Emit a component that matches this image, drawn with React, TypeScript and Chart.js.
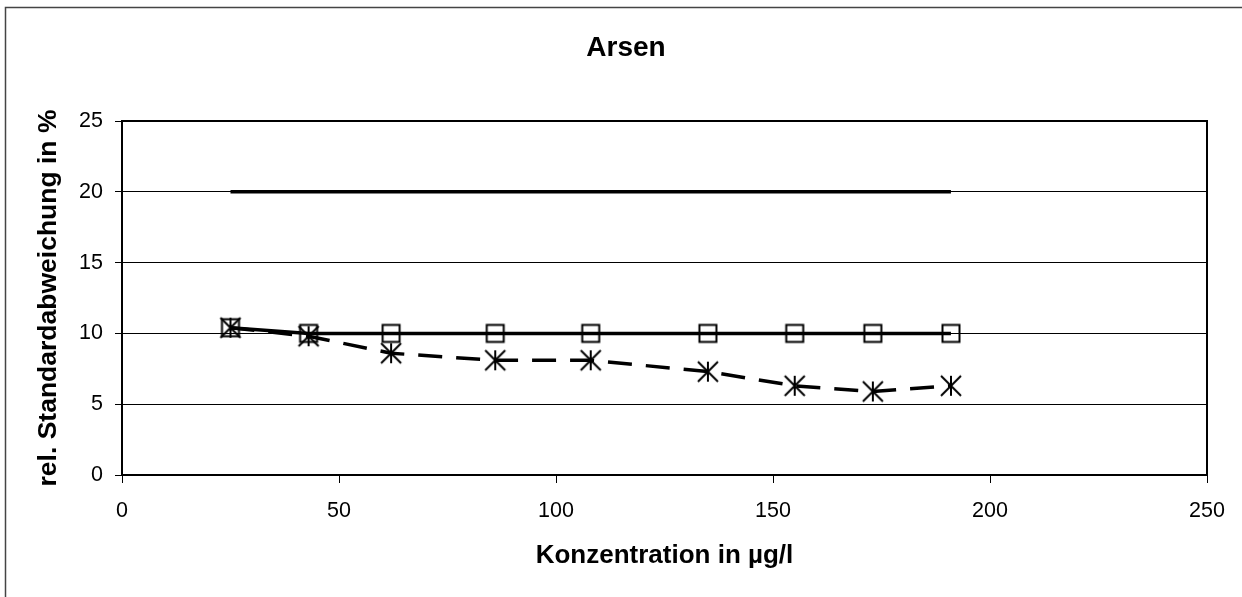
import React, { useEffect, useRef } from "react";
import { Chart, registerables } from "chart.js";

Chart.register(...registerables);

// ---- data ----
const concentrations = [25, 43, 62, 86, 108, 135, 155, 173, 191];
const rsdMeasured = [10.4, 9.8, 8.6, 8.1, 8.1, 7.3, 6.3, 5.9, 6.3];
const rsdLimit10 = [10.4, 10, 10, 10, 10, 10, 10, 10, 10];
const limit20X = [25, 191];
const limit20Y = [20, 20];
const chartTitle = "Arsen";
const xTitle = "Konzentration in µg/l";
const yTitle = "rel. Standardabweichung in %";

const FONT = "'Liberation Sans', Arial, Helvetica, sans-serif";

function makeStar(): HTMLCanvasElement {
  const c = document.createElement("canvas");
  const s = 24;
  c.width = s;
  c.height = s;
  const ctx = c.getContext("2d")!;
  ctx.strokeStyle = "#000";
  ctx.lineWidth = 2;
  const h = 10;
  const m = s / 2;
  ctx.beginPath();
  ctx.moveTo(m, m - h);
  ctx.lineTo(m, m + h);
  ctx.moveTo(m - h, m - h);
  ctx.lineTo(m + h, m + h);
  ctx.moveTo(m + h, m - h);
  ctx.lineTo(m - h, m + h);
  ctx.stroke();
  return c;
}

function makeSquare(): HTMLCanvasElement {
  const c = document.createElement("canvas");
  const s = 22;
  c.width = s;
  c.height = s;
  const ctx = c.getContext("2d")!;
  ctx.strokeStyle = "#000";
  ctx.lineWidth = 2;
  ctx.strokeRect(2.5, 2.5, 17, 17);
  return c;
}

const decorPlugin = {
  id: "decor",
  afterDraw(chart: any) {
    const ctx = chart.ctx as CanvasRenderingContext2D;
    const { chartArea } = chart;
    ctx.save();
    // outer frame
    ctx.strokeStyle = "#444";
    ctx.lineWidth = 1.5;
    ctx.beginPath();
    ctx.moveTo(5.5, 620);
    ctx.lineTo(5.5, 7.5);
    ctx.lineTo(1260, 7.5);
    ctx.stroke();
    // plot area box (top & right)
    ctx.strokeStyle = "#000";
    ctx.lineWidth = 2;
    ctx.beginPath();
    ctx.moveTo(chartArea.left, chartArea.top);
    ctx.lineTo(chartArea.right, chartArea.top);
    ctx.lineTo(chartArea.right, chartArea.bottom);
    ctx.stroke();
    // title
    ctx.fillStyle = "#000";
    ctx.font = `bold 28px ${FONT}`;
    ctx.textAlign = "center";
    ctx.textBaseline = "alphabetic";
    ctx.fillText(chartTitle, 626, 56);
    ctx.restore();
  },
};

export default function App() {
  const ref = useRef<HTMLCanvasElement | null>(null);

  useEffect(() => {
    document.body.style.margin = "0";
    const canvas = ref.current!;
    const star = makeStar();
    const square = makeSquare();

    const chart = new Chart(canvas, {
      type: "line",
      data: {
        datasets: [
          {
            label: "Grenze 20",
            data: limit20X.map((x, i) => ({ x, y: limit20Y[i] })),
            borderColor: "#000",
            borderWidth: 3.5,
            pointRadius: 0,
            fill: false,
            tension: 0,
          },
          {
            label: "Grenze 10",
            data: concentrations.map((x, i) => ({ x, y: rsdLimit10[i] })),
            borderColor: "#000",
            borderWidth: 3.5,
            pointStyle: square as any,
            pointRadius: 9,
            fill: false,
            tension: 0,
          },
          {
            label: "rel. Standardabweichung",
            data: concentrations.map((x, i) => ({ x, y: rsdMeasured[i] })),
            borderColor: "#000",
            borderWidth: 3.5,
            borderDash: [24, 14],
            pointStyle: star as any,
            pointRadius: 10,
            fill: false,
            tension: 0,
          },
        ],
      },
      options: {
        responsive: false,
        animation: false,
        layout: { padding: { left: 0, top: 121, right: 35, bottom: 0 } },
        plugins: {
          legend: { display: false },
          title: { display: false },
          tooltip: { enabled: false },
        },
        scales: {
          x: {
            type: "linear",
            min: 0,
            max: 250,
            ticks: {
              stepSize: 50,
              color: "#000",
              font: { family: FONT, size: 21.5 },
              padding: 15,
              maxRotation: 0,
            },
            grid: {
              drawOnChartArea: false,
              drawTicks: true,
              tickLength: 8,
              color: "#000",
              lineWidth: 1,
            },
            border: { color: "#000", width: 2 },
            title: {
              display: true,
              text: xTitle,
              color: "#000",
              font: { family: FONT, size: 26, weight: "bold" },
              padding: { top: 0, bottom: 26 },
            },
            afterFit(scale: any) {
              scale.height = 122;
            },
          },
          y: {
            min: 0,
            max: 25,
            ticks: {
              stepSize: 5,
              color: "#000",
              font: { family: FONT, size: 21.5 },
              padding: 12,
            },
            grid: {
              drawOnChartArea: true,
              drawTicks: true,
              tickLength: 7,
              color: "#000",
              lineWidth: 1,
            },
            border: { color: "#000", width: 2 },
            title: {
              display: true,
              text: yTitle,
              color: "#000",
              font: { family: FONT, size: 26.5, weight: "bold" },
              padding: { top: 33, bottom: 0 },
            },
            afterFit(scale: any) {
              scale.width = 122;
            },
          },
        },
      },
      plugins: [decorPlugin],
    });

    return () => chart.destroy();
  }, []);

  return (
    <canvas
      ref={ref}
      width={1242}
      height={597}
      style={{ display: "block", width: 1242, height: 597 }}
    />
  );
}
